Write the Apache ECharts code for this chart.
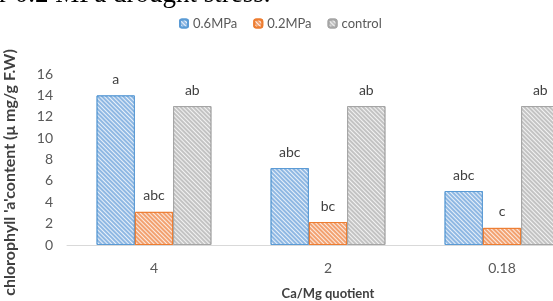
<!DOCTYPE html>
<html>
<head>
<meta charset="utf-8">
<script src="https://cdn.jsdelivr.net/npm/echarts@6/dist/echarts.min.js"></script>
<style>
  html, body { margin: 0; padding: 0; background: #fff; }
  #chart { width: 553px; height: 301px; }
</style>
</head>
<body>
<div id="chart"></div>
<script>
// 数据
const categories = ['4', '2', '0.18']
const seriesNames = ['0.6MPa', '0.2MPa', 'control']
const highValues = [14, 7.2, 5.05]
const lowValues = [3.1, 2.15, 1.6]
const controlValues = [13, 13, 13]
const highLetters = ['a', 'abc', 'abc']
const lowLetters = ['abc', 'bc', 'c']
const controlLetters = ['ab', 'ab', 'ab']
const yTicks = [0, 2, 4, 6, 8, 10, 12, 14, 16]

const font = 'Lato, "Open Sans", sans-serif'

function hatch () {
  return {
    symbol: 'rect',
    symbolSize: 1,
    dashArrayX: [1, 0],
    dashArrayY: [1, 1.5],
    rotation: Math.PI / 4,
    color: 'rgba(255,255,255,0.8)'
  }
}

function makeSeries (name, values, letters, fill, line) {
  return {
    name: name,
    type: 'bar',
    barGap: 0,
    barCategoryGap: '34%',
    data: values,
    itemStyle: {
      color: fill,
      borderColor: line,
      borderWidth: 1,
      decal: hatch()
    },
    label: {
      show: true,
      position: 'top',
      distance: 9,
      color: '#404040',
      fontSize: 14,
      fontFamily: font,
      formatter: p => letters[p.dataIndex]
    }
  }
}

const chart = echarts.init(document.getElementById('chart'))
chart.setOption({
  animation: false,
  graphic: [{
    type: 'text',
    x: -1,
    y: -19,
    style: {
      text: 'r 0.2 MPa drought stress.',
      font: '27px "Liberation Serif", "DejaVu Serif", serif',
      fill: '#000'
    }
  }],
  legend: {
    top: 12,
    left: 174,
    itemWidth: 8,
    itemHeight: 8,
    itemGap: 16,
    textStyle: { color: '#595959', fontSize: 13, fontFamily: font },
    data: seriesNames
  },
  grid: {
    left: 67,
    width: 522,
    top: 74,
    bottom: 56,
    outerBoundsMode: 'none',
    containLabel: false
  },
  xAxis: {
    type: 'category',
    data: categories,
    name: 'Ca/Mg quotient',
    nameLocation: 'middle',
    nameGap: 42,
    nameTextStyle: { color: '#404040', fontSize: 13, fontWeight: 'bold', fontFamily: font },
    axisLine: { lineStyle: { color: '#d9d9d9' } },
    axisTick: { show: false },
    axisLabel: { color: '#595959', fontSize: 14, fontFamily: font, margin: 16 }
  },
  yAxis: {
    type: 'value',
    min: yTicks[0],
    max: yTicks[yTicks.length - 1],
    interval: 2,
    name: "chlorophyll 'a'content (μ mg/g F.W)",
    nameLocation: 'middle',
    nameGap: 49,
    nameTextStyle: {
      color: '#404040',
      fontSize: 16,
      fontWeight: 'bold',
      fontFamily: font,
      padding: [0, 26, 0, 0]
    },
    axisLine: { show: false },
    axisTick: { show: false },
    splitLine: { show: false },
    axisLabel: { color: '#595959', fontSize: 14, fontFamily: font, margin: 14 }
  },
  series: [
    makeSeries(seriesNames[0], highValues, highLetters, '#8fb8e3', '#5b9bd5'),
    makeSeries(seriesNames[1], lowValues, lowLetters, '#f2a170', '#ed7d31'),
    makeSeries(seriesNames[2], controlValues, controlLetters, '#c3c3c3', '#a5a5a5')
  ]
})
</script>
</body>
</html>
